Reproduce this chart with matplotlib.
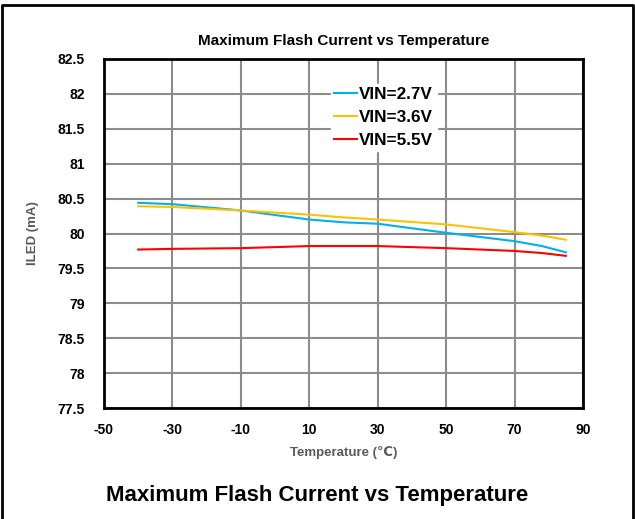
import matplotlib.pyplot as plt
from matplotlib.lines import Line2D

plt.rcParams['font.family'] = ['Liberation Sans', 'DejaVu Sans']
plt.rcParams['font.weight'] = 'bold'
plt.rcParams['axes.unicode_minus'] = False

# temperature points (C)
temps = [-40, -30, -10, 10, 20, 30, 50, 70, 78, 85]
# ILED readings (mA) per supply voltage
vin_27 = [80.44, 80.42, 80.33, 80.20, 80.16, 80.14, 80.01, 79.89, 79.82, 79.73]
vin_36 = [80.39, 80.38, 80.33, 80.27, 80.23, 80.20, 80.13, 80.02, 79.97, 79.91]
vin_55 = [79.77, 79.78, 79.79, 79.82, 79.82, 79.82, 79.79, 79.75, 79.72, 79.68]

x_ticks = [-50, -30, -10, 10, 30, 50, 70, 90]
y_ticks = [77.5, 78, 78.5, 79, 79.5, 80, 80.5, 81, 81.5, 82, 82.5]
y_labels = ['77.5', '78', '78.5', '79', '79.5', '80', '80.5', '81', '81.5', '82', '82.5']

fig = plt.figure(figsize=(6.35, 5.19), dpi=100)
W, H = 635, 519
ax = fig.add_axes([104 / W, 1 - 408 / H, (583 - 104) / W, (408 - 59) / H])

ax.plot(temps, vin_27, color='#00B0F0', lw=1.5, label='VIN=2.7V')
ax.plot(temps, vin_36, color='#FFC000', lw=1.5, label='VIN=3.6V')
ax.plot(temps, vin_55, color='#FF0000', lw=1.5, label='VIN=5.5V')

ax.set_xlim(-50, 90)
ax.set_ylim(77.5, 82.5)
ax.set_xticks(x_ticks)
ax.set_yticks(y_ticks)
ax.set_yticklabels(y_labels)
ax.tick_params(axis='x', length=0, labelsize=10, pad=11)
ax.tick_params(axis='y', length=0, labelsize=10, pad=14)
for lab in ax.get_xticklabels() + ax.get_yticklabels():
    lab.set_fontweight('bold')
ax.grid(True, color='#8C8C8C', lw=1.5)
ax.set_axisbelow(True)
for s in ax.spines.values():
    s.set_linewidth(2)
    s.set_color('black')

ax.set_title('Maximum Flash Current vs Temperature', fontsize=11, fontweight='bold', pad=10)
ax.set_xlabel('Temperature (℃)', fontsize=9.5, fontweight='bold', color='#595959', labelpad=6)
ax.set_ylabel('ILED (mA)', fontsize=9.5, fontweight='bold', color='#595959', labelpad=13)

leg = ax.legend(loc='upper left', bbox_to_anchor=((331 - 104) / (583 - 104), 1 - (84 - 59) / (408 - 59)),
                frameon=True, fancybox=False, edgecolor='white', framealpha=1,
                prop={'size': 12.3, 'weight': 'bold'}, handlelength=1.3, handletextpad=0.15,
                labelspacing=0.45, borderpad=0.2, borderaxespad=0)

fig.text(0.5, 1 - 495 / H, 'Maximum Flash Current vs Temperature', ha='center', va='center',
         fontsize=16, fontweight='bold')

# outer frame (top, left, right)
fig.add_artist(Line2D([2 / W, 2 / W, 633 / W, 633 / W], [0, 1 - 5 / H, 1 - 5 / H, 0],
                      transform=fig.transFigure, color='black', lw=2))

fig.savefig('out.png', dpi=100)
